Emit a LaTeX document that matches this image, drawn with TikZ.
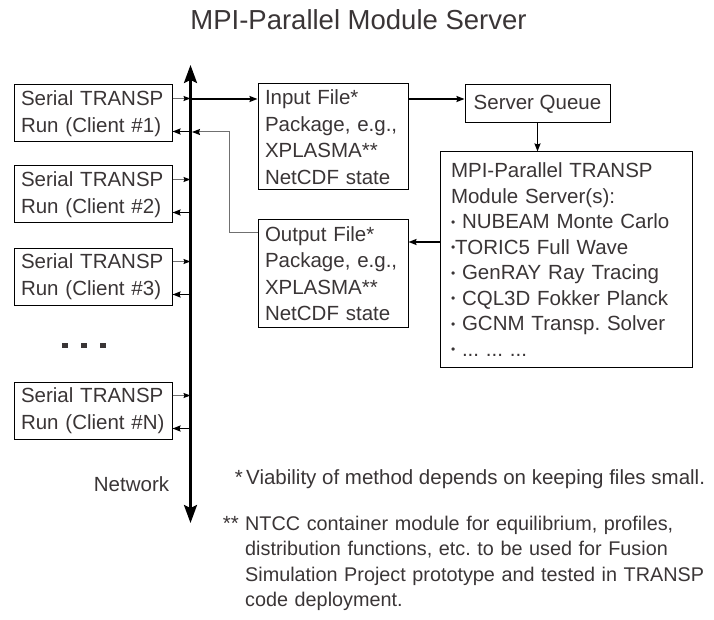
\documentclass[tikz,border=0pt]{standalone}
\usepackage{fontspec}
\setmainfont{Liberation Sans}
\usetikzlibrary{arrows.meta}
\frenchspacing
\definecolor{inkgray}{HTML}{3A3536}
\definecolor{wiregray}{HTML}{707070}
\newcommand\smallbul{\raisebox{2.5pt}{\fontsize{12}{12}\selectfont•}}
\tikzset{
  box/.style={draw,line width=1pt,text=inkgray,align=left,inner xsep=7pt,inner ysep=0pt,
    font=\fontsize{20.5}{26.5}\selectfont},
  label/.style={text=inkgray,inner sep=0pt,font=\fontsize{20.5}{25.5}\selectfont},
  net/.style={line width=2.6pt,{Stealth[length=18pt,width=13pt,inset=3pt]}-{Stealth[length=18pt,width=13pt,inset=3pt]}},
  arr/.style={line width=1.6pt,-{Stealth[length=8pt,width=6pt,inset=1pt]}},
  outarr/.style={line width=1pt,wiregray,-{Stealth[length=7pt,width=5pt,inset=1pt,black]}},
  back/.style={line width=1pt,wiregray,-{Stealth[length=8pt,width=6pt,inset=1pt,black]}}
}
\begin{document}
\begin{tikzpicture}[x=1pt,y=-1pt]
  \useasboundingbox (0,0) rectangle (714,620);
  % title
  \node[label,font=\fontsize{27.5}{30}\selectfont,anchor=base] (title) at (358.5,30) {MPI-Parallel Module Server};
  % network bus
  \coordinate (top) at (190.5,65);
  \coordinate (bot) at (190.5,523);
  \draw[net] (bot) -- (top);
  \node[label,anchor=base] (netlbl) at (131.5,491.5) {Network};
  % clients
  \foreach \n/\y/\t in {1/113.5/1,2/194.5/2,3/276.5/3,N/410.5/N}{
    \node[box,minimum width=158,minimum height=57,text width=144pt] (c\n) at (93,\y) {Serial TRANSP\\Run (Client \#\t)};
    \coordinate (o\n) at (190.5,\y-15);
    \coordinate (i\n) at (190.5,\y+18);
    \draw[outarr] (c\n.east |- o\n) -- (o\n);
    \draw[arr] (i\n) -- (c\n.east |- i\n);
  }
  % dots between clients
  \foreach \x in {65,84,102.5}
    \fill[inkgray] (\x-3,342.5) rectangle (\x+3,347.5);
  % file packages
  \node[box,minimum width=150,minimum height=106,text width=136pt] (inp) at (333,137) {Input File*\\Package, e.g.,\\XPLASMA**\\NetCDF state};
  \node[box,minimum width=150,minimum height=107,text width=136pt] (outp) at (333,273.5) {Output File*\\Package, e.g.,\\XPLASMA**\\NetCDF state};
  % server side
  \node[box,minimum width=145,minimum height=38] (queue) at (537.5,104) {Server Queue};
  \node[box,minimum width=252,minimum height=215,text width=230pt,inner xsep=11pt,
    font=\fontsize{20.5}{25.5}\selectfont] (mpi) at (566,259.5)
    {MPI-Parallel TRANSP\\Module Server(s):\\\smallbul{} NUBEAM Monte Carlo\\\smallbul TORIC5 Full Wave\\\smallbul{} GenRAY Ray Tracing\\\smallbul{} CQL3D Fokker Planck\\\smallbul{} GCNM Transp. Solver\\\smallbul{} ... ... ...};
  % flow
  \coordinate (nin) at (190.5,99);
  \draw[arr] (nin) -- (nin -| inp.west);
  \draw[arr] ([yshift=5pt]queue.west -| inp.east) -- ([yshift=5pt]queue.west);
  \draw[arr] (queue.south) -- (queue.south |- mpi.north);
  \draw[arr] ([yshift=17.5pt]mpi.west) -- ([yshift=17.5pt]mpi.west -| outp.east);
  \coordinate (nback) at (192,132);
  \draw[back] ([yshift=40.5pt]outp.west) -- ++(-28,0) |- (nback);
  % footnotes
  \node[label,anchor=base east] (star1) at (243,484) {*};
  \node[label,anchor=base west] (note1) at (246,484) {Viability of method depends on keeping files small.};
  \node[label,anchor=base east] (star2) at (239,530) {**};
  \node[label,anchor=north west,text width=470pt,align=left,font=\fontsize{19.8}{25.5}\selectfont] (note2) at (245,515.5)
    {NTCC container module for equilibrium, profiles,\\distribution functions, etc. to be used for Fusion\\Simulation Project prototype and tested in TRANSP\\code deployment.};
\end{tikzpicture}
\end{document}
